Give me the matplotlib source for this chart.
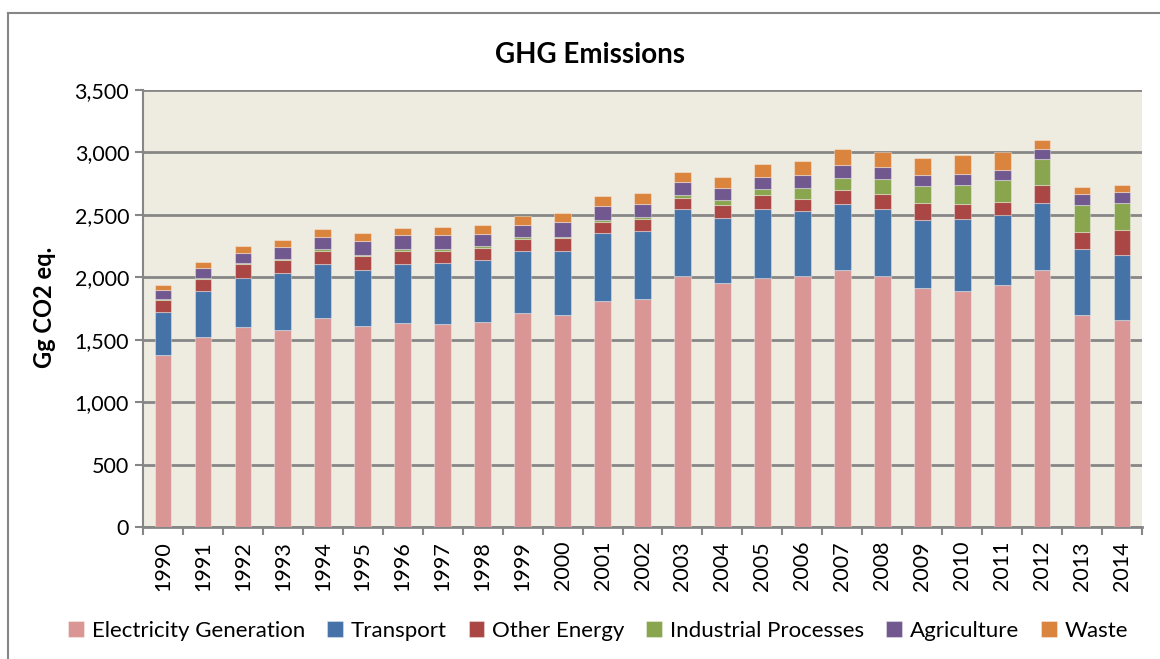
import matplotlib
matplotlib.use("Agg")
import matplotlib.pyplot as plt
from matplotlib.lines import Line2D
import numpy as np

plt.rcParams['font.family'] = ['Lato', 'DejaVu Sans']

# valeurs (Gg CO2 eq.)
annees = [str(a) for a in range(1990, 2015)]
electricite = [1375, 1519, 1605, 1581, 1677, 1613, 1637, 1629, 1645, 1712,
               1696, 1814, 1830, 2009, 1958, 1998, 2012, 2055, 2012, 1918,
               1894, 1940, 2060, 1701, 1656]
transport = [348, 372, 393, 455, 428, 447, 468, 484, 495, 500,
             516, 543, 543, 538, 516, 552, 516, 532, 535, 543,
             572, 558, 538, 528, 525]
autre_energie = [93, 99, 105, 101, 105, 107, 108, 97, 94, 97,
                 99, 83, 91, 85, 108, 107, 102, 110, 118, 131,
                 121, 105, 141, 133, 197]
industrie = [11, 8, 8, 11, 13, 8, 10, 13, 13, 10,
             14, 21, 22, 27, 34, 48, 83, 102, 120, 137,
             155, 180, 206, 220, 220]
agriculture = [73, 78, 85, 94, 99, 118, 112, 112, 99, 99,
               115, 107, 104, 102, 102, 98, 106, 104, 96, 90,
               86, 80, 83, 85, 85]
dechets = [42, 48, 51, 59, 62, 61, 62, 70, 75, 73,
           77, 83, 83, 86, 89, 102, 113, 123, 119, 140,
           155, 144, 72, 56, 56]

series = [
    ("Electricity Generation", electricite, "#D99694"),
    ("Transport", transport, "#4572A7"),
    ("Other Energy", autre_energie, "#AA4643"),
    ("Industrial Processes", industrie, "#89A54E"),
    ("Agriculture", agriculture, "#71588F"),
    ("Waste", dechets, "#DB843D"),
]

fig = plt.figure(figsize=(11.6, 6.59), dpi=100)
ax = fig.add_axes([143 / 1160, 1 - 527 / 659, 999 / 1160, 437 / 659])
ax.set_facecolor("#EEECE1")

x = np.arange(len(annees))
bas = np.zeros(len(annees))
for nom, valeurs, couleur in series:
    ax.bar(x, valeurs, width=0.42, bottom=bas, color=couleur, label=nom,
           edgecolor=(1, 1, 1, 0.35), linewidth=0.8, zorder=3)
    bas += np.array(valeurs)

ax.set_xlim(-0.5, len(annees) - 0.5)
ax.set_ylim(0, 3500)
ax.set_yticks(range(0, 3501, 500))
ax.set_yticklabels([f"{v:,}" for v in range(0, 3501, 500)], fontsize=15.5)
ax.set_xticks(x)
ax.set_xticklabels(annees, rotation=90, fontsize=15.5)
ax.tick_params(axis='x', length=0, pad=10)
ax.set_xticks(np.arange(-0.5, len(annees)), minor=True)
ax.tick_params(axis='x', which='minor', length=6, color="#868686", width=1.5)
ax.tick_params(axis='y', length=6, color="#868686", width=1.5, pad=4)

ax.grid(axis='y', color="#868686", linewidth=2, zorder=1)
for cote in ['top', 'right']:
    ax.spines[cote].set_visible(False)
ax.spines['left'].set_color("#868686")
ax.spines['left'].set_linewidth(1.5)
ax.spines['bottom'].set_color("#868686")
ax.spines['bottom'].set_linewidth(2)

fig.text(590 / 1160, 1 - 55 / 659, "GHG Emissions", fontsize=20, fontweight='bold',
         ha='center', va='center')
fig.text(45 / 1160, 1 - 307 / 659, "Gg CO2 eq.", fontsize=17, fontweight='bold',
         rotation=90, ha='center', va='center')

ax.legend(loc='center', bbox_to_anchor=(598 / 1160, (659 - 631) / 659), bbox_transform=fig.transFigure,
          ncol=6, frameon=False, fontsize=16, handlelength=0.7, handleheight=0.7,
          handletextpad=0.35, columnspacing=1.0)

# cadre du graphique
fig.add_artist(Line2D([8 / 1160, 8 / 1160], [0, 1 - 13 / 659], color="#868686", linewidth=1.5))
fig.add_artist(Line2D([8 / 1160, 1], [1 - 13 / 659, 1 - 13 / 659], color="#868686", linewidth=1.5))

plt.savefig("out.png", dpi=100)
plt.close()
